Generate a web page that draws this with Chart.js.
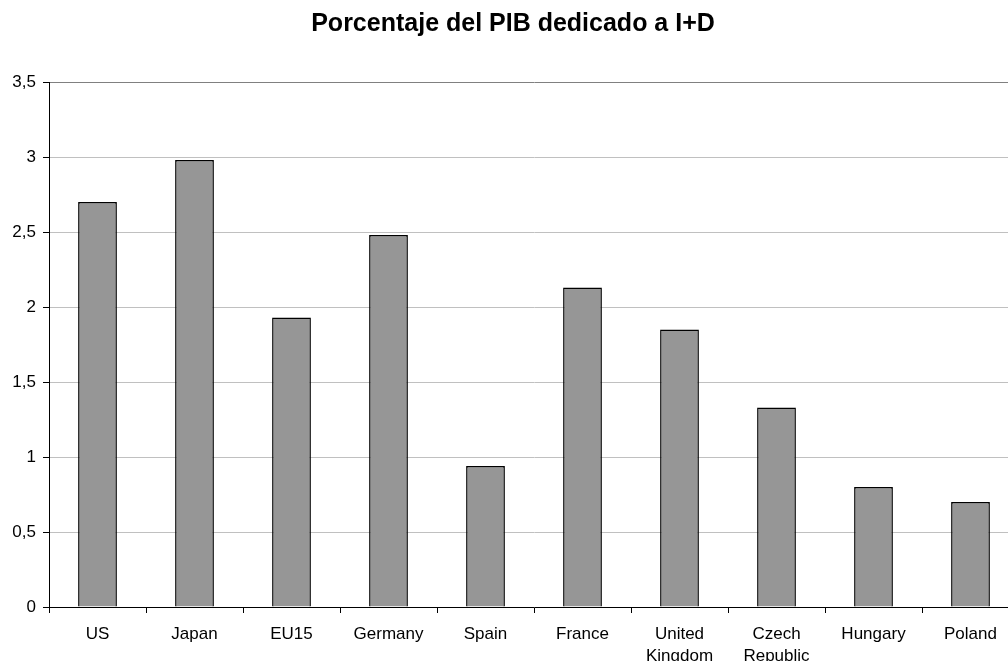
<!DOCTYPE html>
<html lang="es">
<head>
<meta charset="utf-8">
<title>Porcentaje del PIB dedicado a I+D</title>
<script src="https://cdn.jsdelivr.net/npm/chart.js@4"></script>
<style>
  html, body { margin: 0; padding: 0; background: #fff; overflow: hidden; }
  #wrap { position: relative; width: 1019px; height: 661px; }
</style>
</head>
<body>
<div id="wrap"><canvas id="chart"></canvas></div>
<script>
// Gasto en I+D como porcentaje del PIB, por país
const chartTitle = 'Porcentaje del PIB dedicado a I+D';
const countries = ['US', 'Japan', 'EU15', 'Germany', 'Spain', 'France',
  ['United', 'Kingdom'], ['Czech', 'Republic'], 'Hungary', 'Poland'];
const gdpShare = [2.70, 2.98, 1.93, 2.48, 0.94, 2.13, 1.85, 1.33, 0.80, 0.70];
const yTickLabels = ['0', '0,5', '1', '1,5', '2', '2,5', '3', '3,5'];

const FONT = '"Liberation Sans", Arial, sans-serif';

// Título centrado sobre la página
const titlePlugin = {
  id: 'pageTitle',
  afterDraw(chart) {
    const ctx = chart.ctx;
    ctx.save();
    ctx.font = 'bold 25px ' + FONT;
    ctx.fillStyle = '#000';
    ctx.textAlign = 'center';
    ctx.textBaseline = 'alphabetic';
    ctx.fillText(chartTitle, 513, 31);
    ctx.restore();
  }
};

new Chart(document.getElementById('chart'), {
  type: 'bar',
  data: {
    labels: countries,
    datasets: [{
      data: gdpShare,
      backgroundColor: '#969696',
      borderColor: '#000',
      borderWidth: 1.5,
      borderSkipped: 'bottom',
      barPercentage: 0.4,
      categoryPercentage: 1.0
    }]
  },
  options: {
    responsive: true,
    maintainAspectRatio: false,
    animation: false,
    layout: { padding: { top: 82, left: 0, right: 0, bottom: 0 } },
    plugins: {
      legend: { display: false },
      title: { display: false },
      tooltip: { enabled: false }
    },
    scales: {
      x: {
        offset: true,
        afterFit(scale) { scale.height = 54; },
        grid: {
          offset: true,
          drawOnChartArea: false,
          drawTicks: true,
          tickLength: 6,
          tickColor: '#000'
        },
        border: { display: true, color: '#000', width: 1, z: 1 },
        ticks: {
          color: '#000',
          padding: 11,
          maxRotation: 0,
          autoSkip: false,
          font: { family: FONT, size: 17, lineHeight: 1.25 }
        }
      },
      y: {
        min: 0,
        max: 3.5,
        afterFit(scale) { scale.width = 49; },
        grid: {
          color: (c) => (c.tick && c.tick.value === 3.5) ? '#808080' : '#c0c0c0',
          lineWidth: 1,
          drawTicks: true,
          tickLength: 6,
          tickColor: '#000'
        },
        border: { display: true, color: '#000', width: 1 },
        ticks: {
          stepSize: 0.5,
          color: '#000',
          padding: 7,
          font: { family: FONT, size: 17 },
          callback: (value, index) => yTickLabels[index]
        }
      }
    }
  },
  plugins: [titlePlugin]
});
</script>
</body>
</html>
